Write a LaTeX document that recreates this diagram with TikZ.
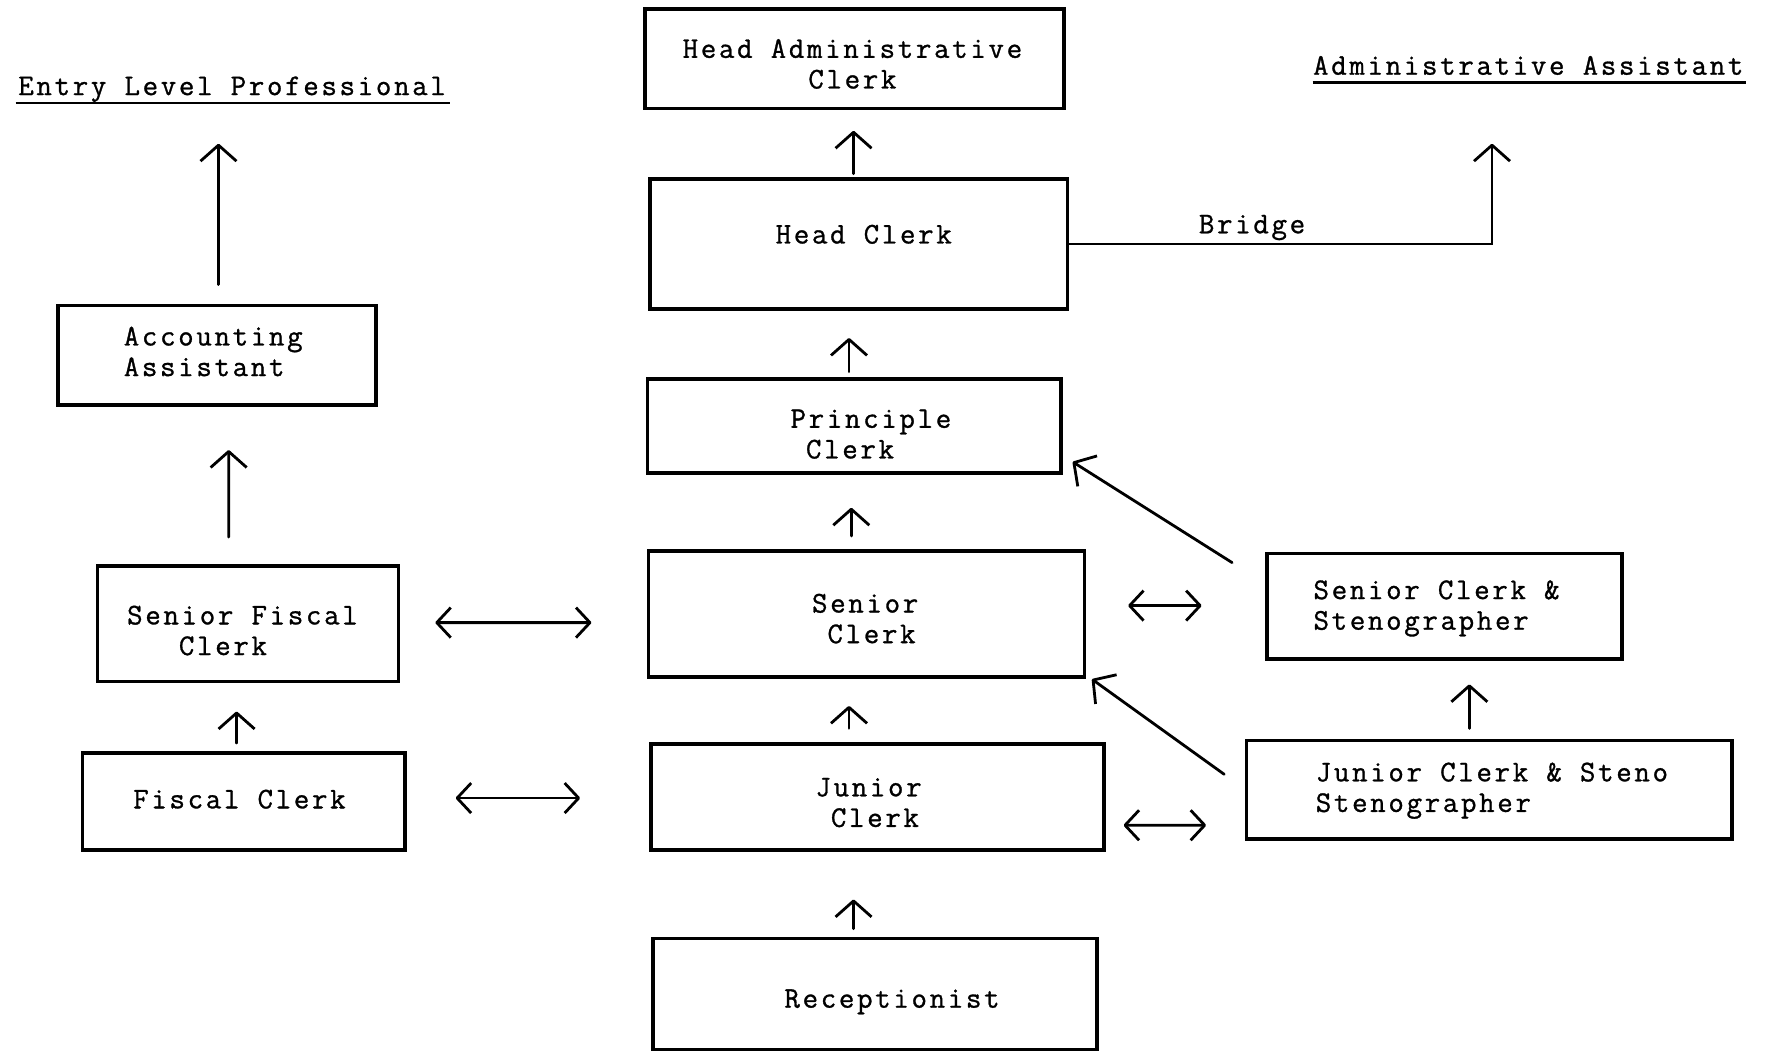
\documentclass[tikz,border=0pt]{standalone}
\usepackage{fontspec}
\newfontfamily\tw[LetterSpace=9,FakeBold=1]{Latin Modern Mono}
\usetikzlibrary{arrows.meta,calc}
\def\u{0.566pt}
\tikzset{
  box/.style={draw, line width=1.8pt, inner sep=0pt},
  txt/.style={font=\tw\fontsize{15}{15.3}\selectfont, inner sep=0pt},
  arr/.style={line width=1.4pt, line cap=round, -{Straight Barb[length=8pt,width=18pt,line join=round]}},
  darr/.style={line width=1.4pt, {Straight Barb[length=7pt,width=15pt,line join=round]}-{Straight Barb[length=7pt,width=15pt,line join=round]}},
  uline/.style={line width=1.2pt},
}
\begin{document}
\begin{tikzpicture}[x=\u, y=-\u]
\useasboundingbox (0,0) rectangle (1568,929);
% boxes
\node[box, minimum width=370*\u, minimum height=88*\u] (had) at (755,52) {};
\node[box, minimum width=369*\u, minimum height=115*\u] (hc) at (758.5,215.5) {};
\node[box, minimum width=365*\u, minimum height=83*\u] (pc) at (754.5,376.5) {};
\node[box, minimum width=385*\u, minimum height=111*\u] (sc) at (765.5,542.5) {};
\node[box, minimum width=400*\u, minimum height=94*\u] (jc) at (775,704) {};
\node[box, minimum width=392*\u, minimum height=98*\u] (rec) at (773,878) {};
\node[box, minimum width=281*\u, minimum height=88*\u] (acc) at (191.5,314) {};
\node[box, minimum width=266*\u, minimum height=102*\u] (sfc) at (219,551) {};
\node[box, minimum width=285*\u, minimum height=86*\u] (fc) at (215.5,708) {};
\node[box, minimum width=314*\u, minimum height=93*\u] (scs) at (1276,535.5) {};
\node[box, minimum width=429*\u, minimum height=87*\u] (jcs) at (1315.5,697.5) {};
% texts
\node[txt, align=center] (thad) at (753,56.5) {Head Administrative\\Clerk};
\node[txt] (thc) at (763,207) {Head Clerk};
\node[txt, align=left, anchor=west] (tpc) at (698,383.5) {Principle\\\hphantom{X}Clerk};
\node[txt, align=left, anchor=west] (tsc) at (717,546.5) {Senior\\\hphantom{X}Clerk};
\node[txt, align=left, anchor=west] (tjc) at (720,709) {Junior\\\hphantom{X}Clerk};
\node[txt] (trec) at (788,885) {Receptionist};
\node[txt, align=left, anchor=west] (tacc) at (109,310.5) {Accounting\\Assistant};
\node[txt, align=left, anchor=west] (tsfc) at (112,557) {Senior Fiscal\\\hphantom{XXX}Clerk};
\node[txt] (tfc) at (211.5,706) {Fiscal Clerk};
\node[txt, align=left, anchor=west] (tscs) at (1160,537.5) {Senior Clerk \&\\Stenographer};
\node[txt, align=left, anchor=west] (tjcs) at (1162,698.5) {Junior Clerk \& Steno\\Stenographer};
% top labels
\node[txt, anchor=base] (elp) at (205,84) {Entry Level Professional};
\node[txt, anchor=base] (aa) at (1350,66) {Administrative Assistant};
\draw[uline] ($(elp.base west)+(-2,7)$) -- ($(elp.base east)+(3,7)$);
\draw[uline] ($(aa.base west)+(0,7)$) -- ($(aa.base east)+(2,7)$);
\node[txt] (bridge) at (1106,201) {Bridge};
\coordinate (elptip) at (193,127);
\coordinate (aatip) at (1318,127);
% vertical arrows
\draw[arr] ($(acc.north)+(1.5,-17)$) -- (elptip);
\draw[arr] ($(sfc.north)+(-17,-24)$) -- ($(acc.south)+(10.5,38)$);
\draw[arr] ($(fc.north)+(-6.5,-7)$) -- ($(sfc.south)+(-10,25)$);
\draw[arr] ($(jc.north)+(-25,-12)$) -- ($(sc.south)+(-15.5,24)$);
\draw[arr] ($(sc.north)+(-13.5,-12)$) -- ($(pc.south)+(-2.5,29)$);
\draw[arr] ($(pc.north)+(-4.5,-5)$) -- ($(hc.south)+(-8.5,24)$);
\draw[arr] ($(hc.north)+(-4.5,-3)$) -- ($(had.south)+(-1,18)$);
\draw[arr] ($(rec.north)+(-19,-7)$) -- ($(jc.south)+(-21,42)$);
\draw[arr] ($(jcs.north)+(-17.5,-9)$) -- ($(scs.south)+(22,21)$);
% diagonal arrows
\draw[arr] ($(scs.west)+(-29,-38.5)$) -- ($(pc.east)+(9,31.5)$);
\draw[arr] ($(jcs.west)+(-18,-13.5)$) -- ($(sc.east)+(5,57.5)$);
% double arrows
\draw[darr] ($(sfc.east)+(31,-1)$) -- ($(sc.west)+(-49,7.5)$);
\draw[darr] ($(fc.east)+(43,-3)$) -- ($(jc.west)+(-61,1)$);
\draw[darr] ($(sc.east)+(37,-7.5)$) -- ($(scs.west)+(-56,-0.5)$);
\draw[darr] ($(jc.east)+(16,25)$) -- ($(jcs.west)+(-34,31.5)$);
% bridge
\draw[arr] (hc.east) -| (aatip);
\end{tikzpicture}
\end{document}
